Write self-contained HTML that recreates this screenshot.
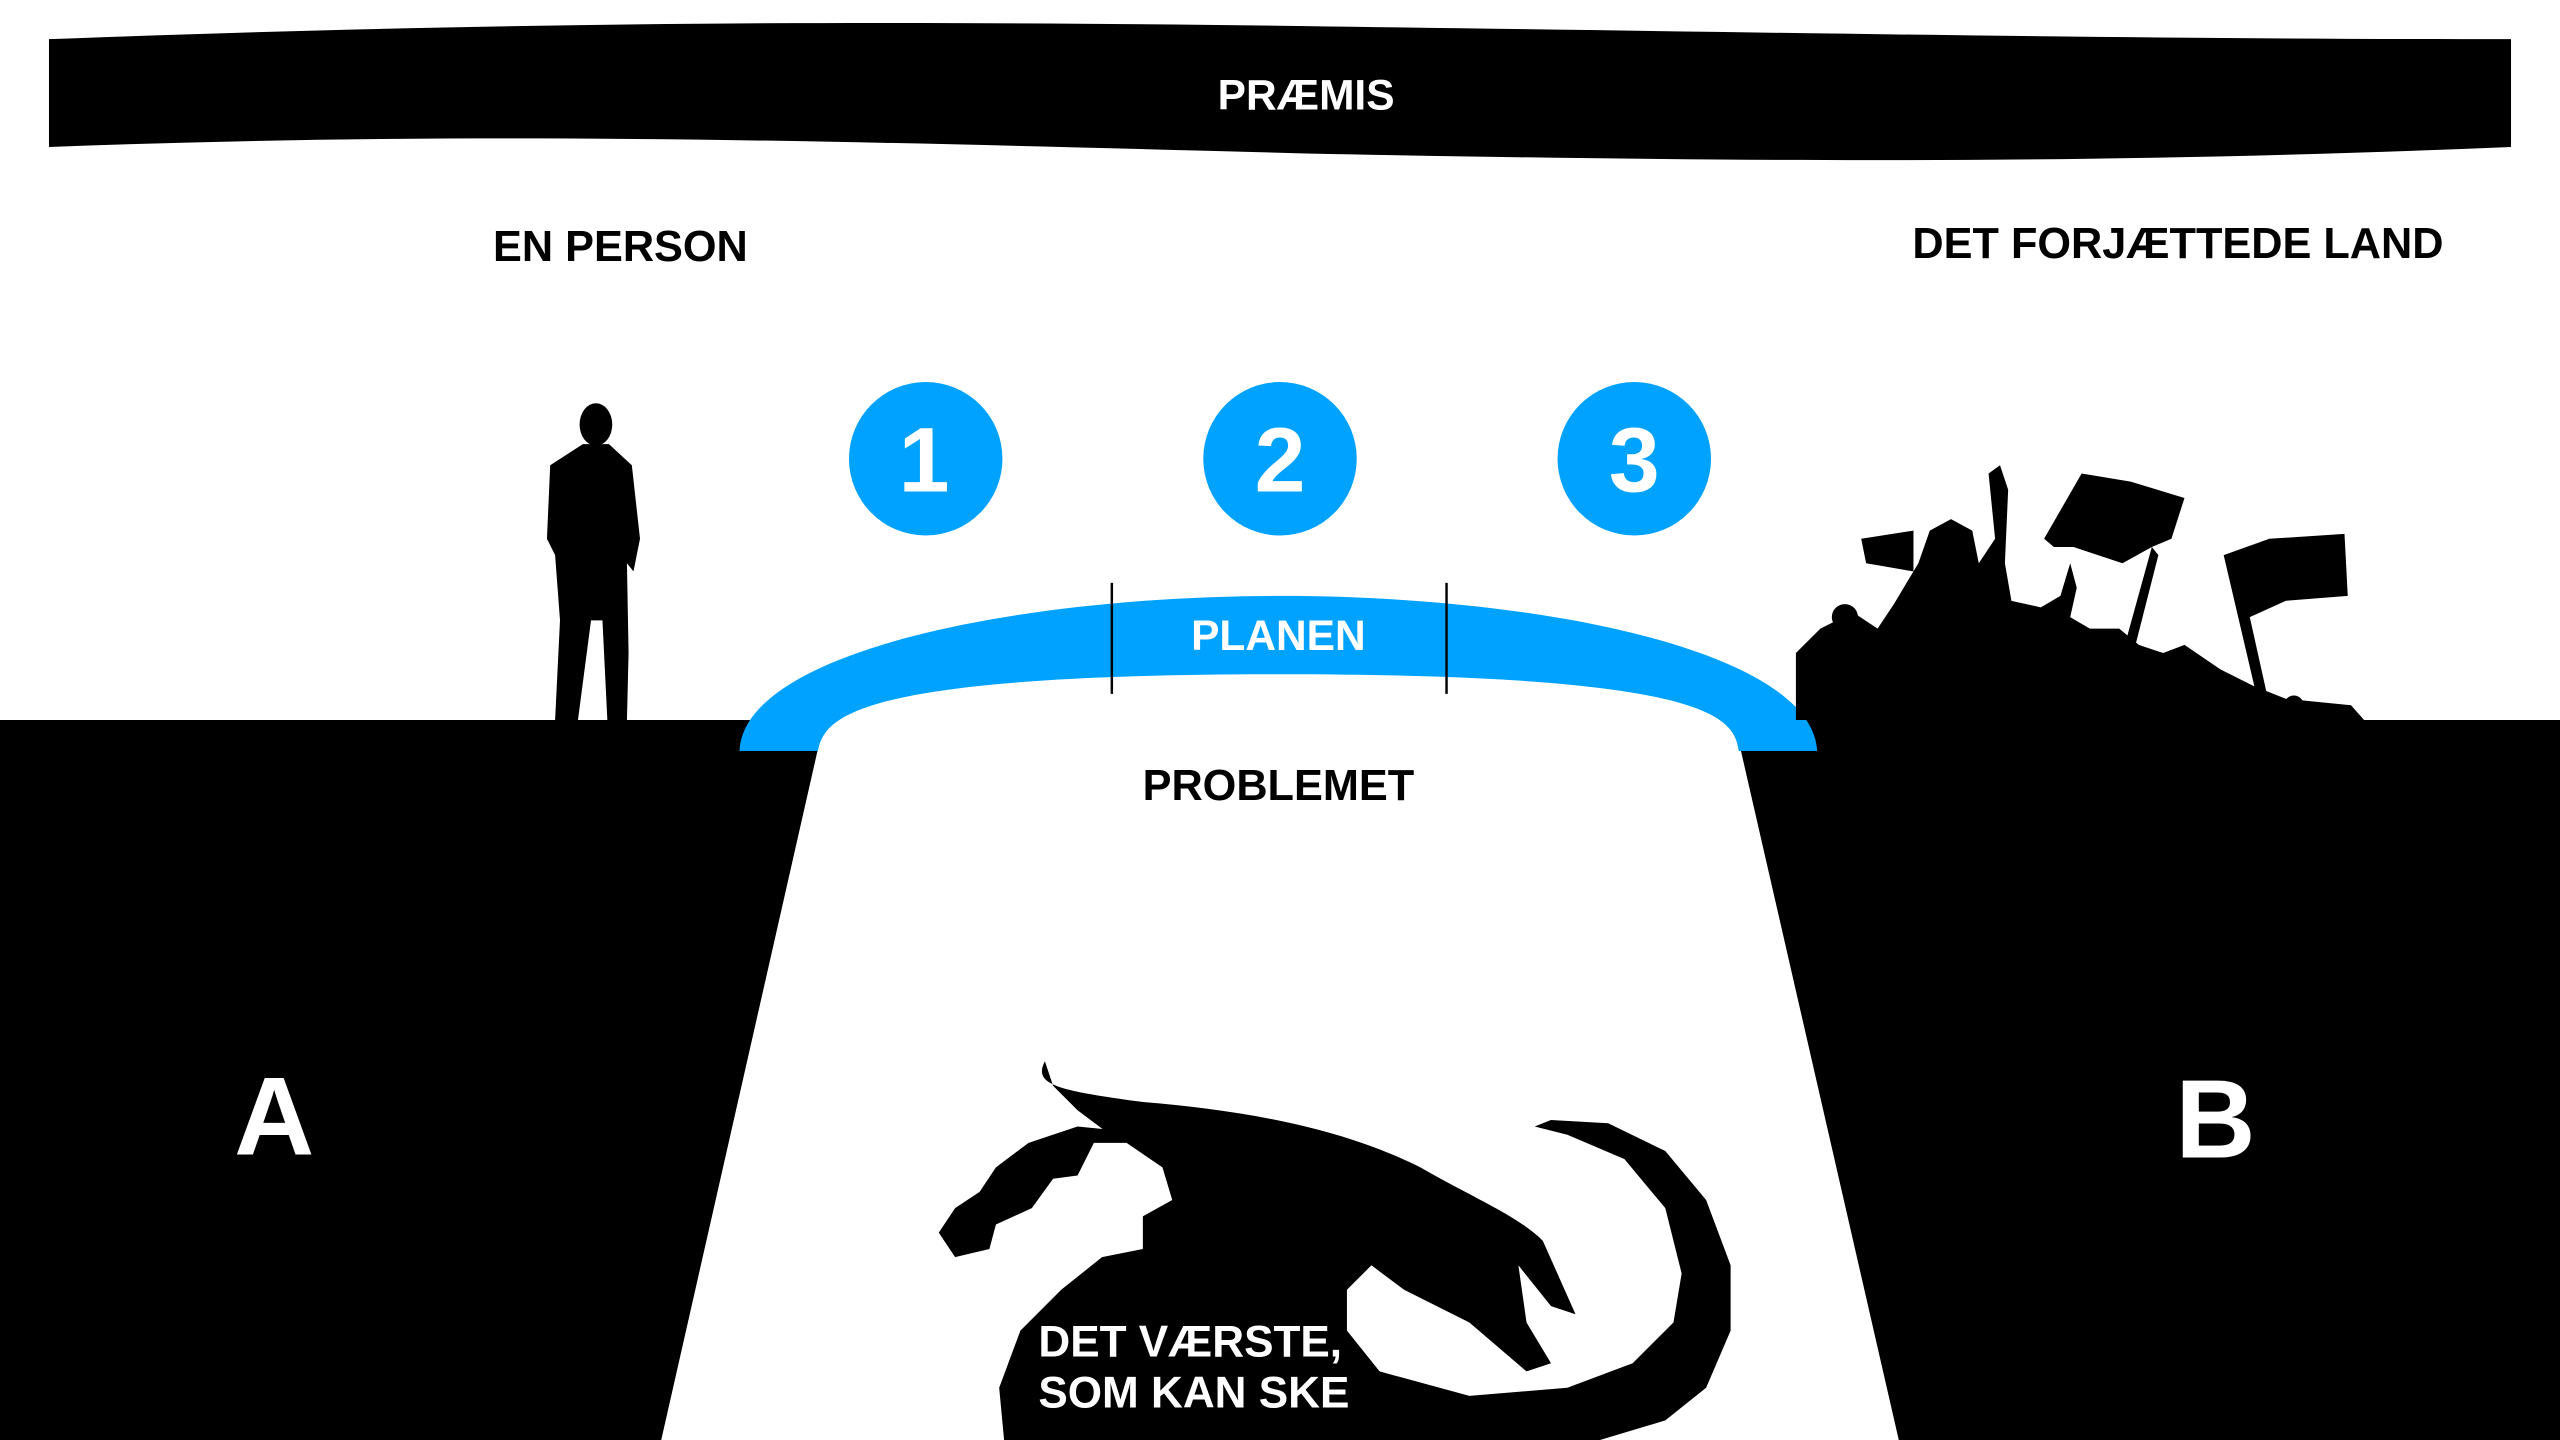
<!DOCTYPE html>
<html><head><meta charset="utf-8"><style>
html,body{margin:0;padding:0;background:#fff;}
svg{display:block;}
text{font-family:"Liberation Sans",Arial,sans-serif;font-weight:bold;}
</style></head><body>
<svg width="2560" height="1440" viewBox="0 0 1568 882" preserveAspectRatio="none" xmlns="http://www.w3.org/2000/svg">
<!-- banner -->
<path d="M30 24 C300 14 500 12 800 16 C1100 20 1300 24 1538 24 L1538 90 C1300 100 1100 100 800 94 C500 86 300 80 30 90 Z" fill="#000"/>
<text x="800" y="67" font-size="26" fill="#fff" text-anchor="middle">PRÆMIS</text>
<text x="380" y="160" font-size="26.5" fill="#000" text-anchor="middle">EN PERSON</text>
<text x="1334" y="158" font-size="26.5" fill="#000" text-anchor="middle">DET FORJÆTTEDE LAND</text>
<!-- circles -->
<g fill="#00a2ff"><circle cx="567" cy="281" r="47"/><circle cx="784" cy="281" r="47"/><circle cx="1001" cy="281" r="47"/></g>
<g fill="#fff" font-size="56" text-anchor="middle"><text x="566" y="301">1</text><text x="784" y="301">2</text><text x="1001" y="301">3</text></g>
<!-- ground -->
<path d="M0 441 L505 441 L405 882 L0 882 Z M1062 441 L1568 441 L1568 882 L1163 882 Z" fill="#000"/>
<!-- arch -->
<path d="M453 460 C455 400 620 365 784 365 C948 365 1110 400 1113 460 L1065 460 C1062 440 1050 413 784 413 C520 413 505 440 501 460 Z" fill="#00a2ff"/>
<line x1="681" y1="357" x2="681" y2="425" stroke="#000" stroke-width="1.5"/>
<line x1="886" y1="357" x2="886" y2="425" stroke="#000" stroke-width="1.5"/>
<text x="783" y="398" font-size="26" fill="#fff" text-anchor="middle">PLANEN</text>
<text x="783" y="490" font-size="26.5" fill="#000" text-anchor="middle">PROBLEMET</text>
<text x="168" y="707" font-size="68" fill="#fff" text-anchor="middle">A</text>
<text x="1357" y="709" font-size="68" fill="#fff" text-anchor="middle">B</text>
<!-- person -->
<g fill="#000">
<ellipse cx="365" cy="260" rx="10" ry="13"/>
<path d="M357 272 L373 272 L387 285 L392 330 L388 350 L384 345 L385 400 L384 441 L372 441 L369 380 L362 380 L354 441 L340 441 L343 380 L340 340 L335 330 L337 285 Z"/>
</g>
<!-- crowd -->
<g fill="#000">
<path d="M1100 441 L1100 400 L1115 385 L1135 375 L1150 385 L1160 370 L1175 345 L1182 325 L1195 318 L1208 325 L1212 345 L1222 330 L1218 290 L1225 285 L1230 300 L1228 345 L1232 368 L1250 372 L1262 365 L1268 345 L1272 360 L1268 378 L1280 385 L1298 385 L1310 395 L1325 400 L1338 395 L1360 410 L1380 420 L1400 428 L1420 430 L1440 432 L1448 441 Z"/>
<path d="M1252 330 L1275 290 L1305 295 L1338 305 L1330 330 L1318 335 L1300 345 L1270 335 L1258 335 Z"/>
<path d="M1318 335 L1322 340 L1308 395 L1302 393 Z"/>
<path d="M1362 340 L1390 330 L1436 327 L1438 365 L1400 368 L1378 378 L1390 432 L1384 434 Z"/>
<path d="M1140 330 L1172 325 L1172 350 L1143 345 Z"/>
<circle cx="1165" cy="388" r="8"/><circle cx="1130" cy="378" r="8"/><circle cx="1250" cy="382" r="8"/><circle cx="1330" cy="410" r="7"/><circle cx="1405" cy="432" r="6"/>
</g>
<!-- dragon -->
<g fill="#000">
<path d="M640 650 C632 665 650 668 700 675 C760 680 820 690 870 715 C905 735 930 745 945 760 L965 805 L950 800 L930 775 L935 810 L950 835 L935 840 L900 810 L860 790 L840 775 L825 790 L825 815 L845 840 L900 855 L960 850 L1000 835 L1025 810 L1030 780 L1020 740 L995 710 L960 695 L940 690 L950 686 L985 688 L1020 705 L1045 735 L1060 775 L1060 815 L1045 850 L1020 870 L980 882 L615 882 L612 850 L625 815 L650 790 L675 770 L700 765 L700 745 L718 735 L712 715 L690 700 L670 700 L660 720 L645 722 L632 740 L610 750 L606 765 L585 770 L575 755 L585 740 L600 730 L610 715 L630 700 L660 690 L690 693 L715 705 L735 730 L740 760 L728 785 L705 795 L685 805 L700 780 L725 768 L732 745 L725 722 L705 705 L680 695 L660 680 L645 665 Z"/>
</g>
<g fill="#fff" font-size="27"><text x="636" y="831">DET VÆRSTE,</text><text x="636" y="862">SOM KAN SKE</text></g>
</svg>
</body></html>
